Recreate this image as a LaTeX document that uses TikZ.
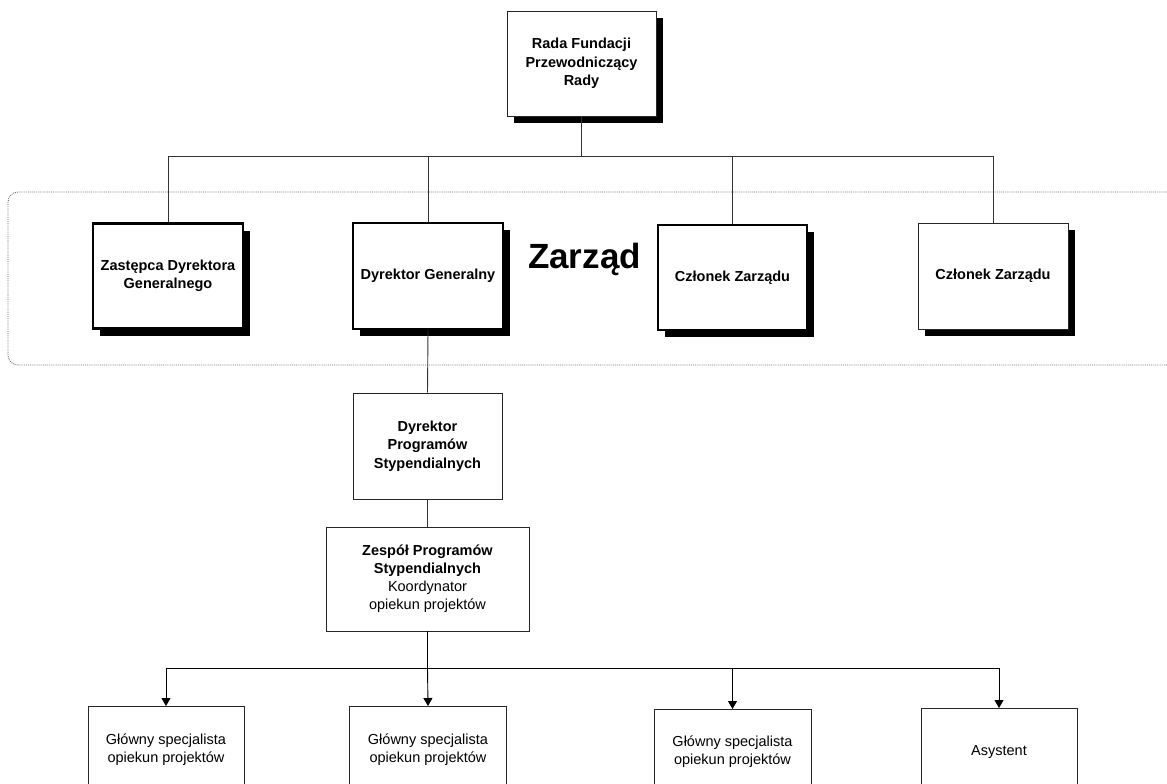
\documentclass[tikz,border=0pt]{standalone}
\usepackage{fontspec}
\setmainfont{Liberation Sans}
\usetikzlibrary{arrows.meta,shadows}
\begin{document}
\begin{tikzpicture}[x=1pt,y=-1pt,
  box/.style={draw=black!85, line width=0.8pt, fill=white, rectangle, inner sep=0pt, align=center,
     font=\fontsize{14.5}{18}\selectfont},
  thickbox/.style={box, draw=black, line width=2.6pt},
  shad/.style={drop shadow={shadow xshift=7pt, shadow yshift=-7pt, fill=black, opacity=1}},
  conn/.style={draw=black!80, line width=0.9pt},
  arr/.style={draw=black, line width=0.9pt, -{Triangle[width=9pt,length=8pt]}}
]
\useasboundingbox (0,0) rectangle (1167,784);
\clip (0,0) rectangle (1167,784);
\fill[white] (0,0) rectangle (1167,784);

% Zarzad group frame
\draw[black!55, line width=0.9pt, densely dotted, rounded corners=10pt] (8,192) rectangle (1190,365);
\node[anchor=base, font=\fontsize{35}{40}\selectfont\bfseries] (zarzad) at (584.5,268) {Zarząd};

% top level
\node[box, shad, minimum width=149pt, minimum height=105pt, font=\fontsize{14.5}{18.5}\selectfont\bfseries] (rada) at (581.5,63.5) {Rada Fundacji\\Przewodniczący\\Rady};

% board members
\node[thickbox, shad, minimum width=150pt, minimum height=105pt, font=\fontsize{14.5}{18}\selectfont\bfseries] (z1) at (168,276) {Zastępca Dyrektora\\Generalnego};
\node[thickbox, shad, minimum width=150pt, minimum height=106pt, font=\fontsize{14.5}{18}\selectfont\bfseries] (dg) at (428,276) {Dyrektor Generalny};
\node[thickbox, shad, minimum width=149pt, minimum height=105pt, font=\fontsize{14.5}{18}\selectfont\bfseries] (z3) at (732.5,277.5) {Członek Zarządu};
\node[box, shad, minimum width=150pt, minimum height=106pt, font=\fontsize{14.5}{18}\selectfont\bfseries] (z4) at (993,276) {Członek Zarządu};

\coordinate (hub) at (581.5,156);
\draw[conn] (rada.south) -- (hub);
\draw[conn] (z1.north) |- (hub);
\draw[conn] (z4.north) |- (hub);
\draw[conn] (dg.north) -- (dg.north |- hub);
\draw[conn] (z3.north) -- (z3.north |- hub);

% programme line
\node[box, minimum width=149pt, minimum height=106pt, font=\fontsize{14.5}{18.5}\selectfont\bfseries] (dps) at (427.5,446) {Dyrektor\\Programów\\Stypendialnych};
\node[box, minimum width=203pt, minimum height=104pt] (zesp) at (427.5,579) {\bfseries Zespół Programów\\\bfseries Stypendialnych\\Koordynator\\opiekun projektów};
\draw[conn] (dg.south) -- (dps.north);
\draw[conn] (dps.south) -- (zesp.north);

% bottom level
\node[box, anchor=north, minimum width=156pt, minimum height=86pt] (b1) at (166,706) {Główny specjalista\\opiekun projektów};
\node[box, anchor=north, minimum width=157pt, minimum height=86pt] (b2) at (428,706) {Główny specjalista\\opiekun projektów};
\node[box, anchor=north, minimum width=157pt, minimum height=84pt] (b3) at (732.5,709) {Główny specjalista\\opiekun projektów};
\node[box, anchor=north, minimum width=156pt, minimum height=88pt] (b4) at (999,708) {Asystent};

\coordinate (hub2) at (427.5,668);
\draw[draw=black, line width=1.6pt] (zesp.south) -- (hub2);
\draw[arr] (hub2) -| (b1.north);
\draw[arr] (hub2) -- (b2.north);
\draw[arr] (hub2) -| (b3.north);
\draw[arr] (hub2) -| (b4.north);
\end{tikzpicture}
\end{document}
